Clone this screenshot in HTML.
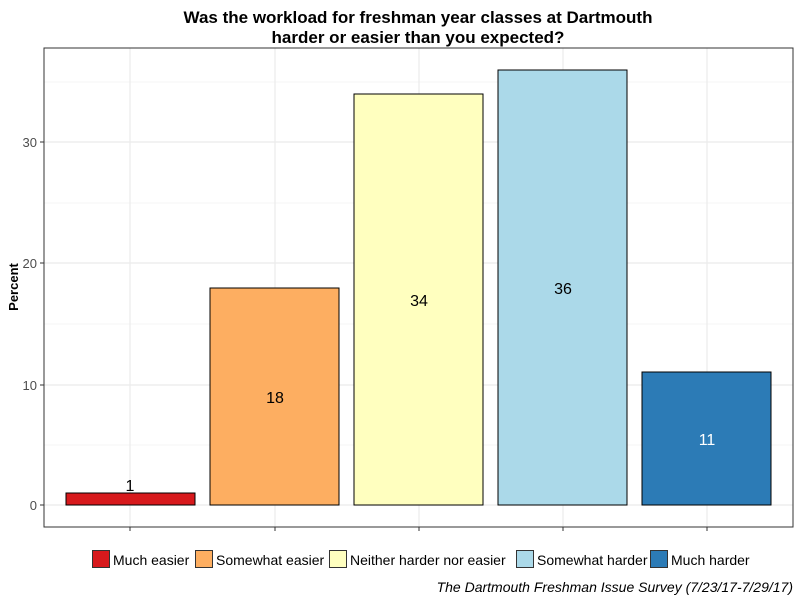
<!DOCTYPE html>
<html><head><style>body{margin:0;background:#fff}svg{display:block}text{font-family:"Liberation Sans",Arial,sans-serif}</style></head><body>
<svg width="800" height="600" xmlns="http://www.w3.org/2000/svg">
<rect width="800" height="600" fill="#fff"/>
<text x="418" y="23" font-size="17" font-weight="bold" text-anchor="middle">Was the workload for freshman year classes at Dartmouth</text>
<text x="418" y="43" font-size="17" font-weight="bold" text-anchor="middle">harder or easier than you expected?</text>
<g stroke="#ebebeb" stroke-width="0.6">
<line x1="44" x2="793" y1="445" y2="445"/><line x1="44" x2="793" y1="324" y2="324"/><line x1="44" x2="793" y1="203" y2="203"/><line x1="44" x2="793" y1="82" y2="82"/>
</g>
<g stroke="#ebebeb" stroke-width="1.2">
<line x1="44" x2="793" y1="505" y2="505"/><line x1="44" x2="793" y1="385" y2="385"/><line x1="44" x2="793" y1="263" y2="263"/><line x1="44" x2="793" y1="142" y2="142"/>
<line x1="130" x2="130" y1="48" y2="527"/><line x1="275" x2="275" y1="48" y2="527"/><line x1="419" x2="419" y1="48" y2="527"/><line x1="563" x2="563" y1="48" y2="527"/><line x1="707" x2="707" y1="48" y2="527"/>
</g>
<g stroke="#000" stroke-width="1">
<rect x="66" y="493" width="129" height="12" fill="#d7191c"/>
<rect x="210" y="288" width="129" height="217" fill="#fdae61"/>
<rect x="354" y="94" width="129" height="411" fill="#ffffbf"/>
<rect x="498" y="70" width="129" height="435" fill="#abd9e9"/>
<rect x="642" y="372" width="129" height="133" fill="#2c7bb6"/>
</g>
<g font-size="16" text-anchor="middle">
<text x="130" y="491">1</text>
<text x="275" y="403">18</text>
<text x="419" y="306">34</text>
<text x="563" y="294">36</text>
<text x="707" y="445" fill="#fff">11</text>
</g>
<rect x="44" y="48" width="749" height="479" fill="none" stroke="#333" stroke-width="1"/>
<g font-size="13" fill="#4d4d4d" text-anchor="end">
<text x="37" y="510">0</text><text x="37" y="390">10</text><text x="37" y="268">20</text><text x="37" y="147">30</text>
</g>
<g stroke="#333"><line x1="40" x2="44" y1="505" y2="505"/><line x1="40" x2="44" y1="385" y2="385"/><line x1="40" x2="44" y1="263" y2="263"/><line x1="40" x2="44" y1="142" y2="142"/>
<line x1="130" x2="130" y1="527" y2="531"/><line x1="275" x2="275" y1="527" y2="531"/><line x1="419" x2="419" y1="527" y2="531"/><line x1="563" x2="563" y1="527" y2="531"/><line x1="707" x2="707" y1="527" y2="531"/></g>
<text x="18" y="287" font-size="13" font-weight="bold" text-anchor="middle" transform="rotate(-90 18 287)">Percent</text>
<g stroke="#333" stroke-width="1">
<rect x="92.5" y="550.5" width="17" height="17" fill="#d7191c"/>
<rect x="195.5" y="550.5" width="17" height="17" fill="#fdae61"/>
<rect x="329.5" y="550.5" width="17" height="17" fill="#ffffbf"/>
<rect x="516.5" y="550.5" width="17" height="17" fill="#abd9e9"/>
<rect x="650.5" y="550.5" width="17" height="17" fill="#2c7bb6"/>
</g>
<g font-size="14">
<text x="113" y="565">Much easier</text>
<text x="216" y="565">Somewhat easier</text>
<text x="350" y="565">Neither harder nor easier</text>
<text x="537" y="565">Somewhat harder</text>
<text x="671" y="565">Much harder</text>
</g>
<text x="793" y="592" font-size="14" font-style="italic" text-anchor="end">The Dartmouth Freshman Issue Survey (7/23/17-7/29/17)</text>
</svg>
</body></html>
